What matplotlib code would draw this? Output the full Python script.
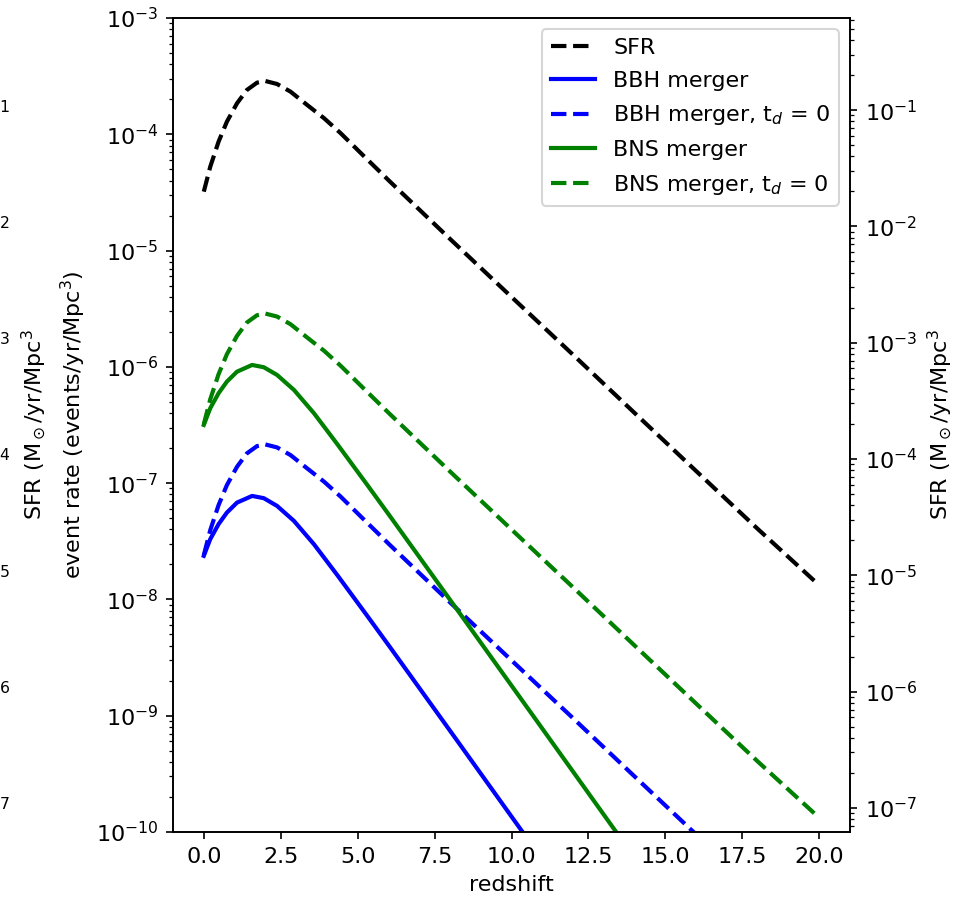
import numpy as np
import matplotlib
matplotlib.use("Agg")
import matplotlib.pyplot as plt

plt.rcParams['font.size'] = 10.7
plt.rcParams['lines.linewidth'] = 2.0

# SFR and the t_d = 0 rates
z_sfr = [0.0, 0.21, 0.48, 0.75, 1.08, 1.40, 1.73, 2.0, 2.38, 2.82, 3.36, 3.91,
         4.45, 5.21, 6.04, 8.0, 10.0, 12.0, 14.0, 16.0, 18.0, 19.95]
sfr = [3.21e-5, 5.26e-5, 8.64e-5, 1.283e-4, 1.847e-4, 2.404e-4, 2.78e-4,
       2.872e-4, 2.707e-4, 2.324e-4, 1.786e-4, 1.373e-4, 1.020e-4, 6.46e-5,
       3.94e-5, 1.26e-5, 3.99e-6, 1.27e-6, 4.01e-7, 1.27e-7, 4.04e-8, 1.36e-8]
bns_td0 = [3.21e-7, 5.26e-7, 8.64e-7, 1.283e-6, 1.847e-6, 2.404e-6, 2.78e-6,
           2.872e-6, 2.707e-6, 2.324e-6, 1.786e-6, 1.373e-6, 1.020e-6, 6.46e-7,
           3.94e-7, 1.26e-7, 3.99e-8, 1.27e-8, 4.01e-9, 1.27e-9, 4.04e-10,
           1.36e-10]
bbh_td0 = [2.40e-8, 3.94e-8, 6.47e-8, 9.61e-8, 1.383e-7, 1.801e-7, 2.082e-7,
           2.151e-7, 2.028e-7, 1.741e-7, 1.338e-7, 1.028e-7, 7.64e-8, 4.84e-8,
           2.95e-8, 9.44e-9, 2.99e-9, 9.51e-10, 3.00e-10, 9.51e-11]

# merger rates with delay times
z_merge = [0.0, 0.21, 0.48, 0.75, 1.08, 1.57, 1.95, 2.38, 2.93, 3.58, 4.34,
           5.32, 6.04, 8.21, 10.41, 12.0, 13.4]
bns = [3.165e-7, 4.41e-7, 5.93e-7, 7.46e-7, 9.09e-7, 1.038e-6, 9.92e-7,
       8.52e-7, 6.33e-7, 3.99e-7, 2.16e-7, 9.59e-8, 5.24e-8, 8.32e-9,
       1.28e-9, 3.30e-10, 1.0e-10]
bbh = [2.37e-8, 3.30e-8, 4.44e-8, 5.58e-8, 6.80e-8, 7.76e-8, 7.42e-8, 6.37e-8,
       4.73e-8, 2.98e-8, 1.616e-8, 7.17e-9, 3.92e-9, 6.22e-10, 9.57e-11]

fig = plt.figure(figsize=(6.38, 6.0), dpi=150)

# neighbouring panel, mostly cut off at the left edge of the figure
ax_l = fig.add_axes([-0.8, 0.0756, 0.741, 0.9044])
ax_l.set_yscale('log')
ax_l.set_xticks([])
ax_l.set_yticks([])
ax_l2 = ax_l.twinx()
ax_l2.set_yscale('log')
ax_l2.set_ylim(6.2e-8, 0.62)
ax_l2.set_ylabel(r'SFR (M$_\odot$/yr/Mpc$^3$')

ax = fig.add_axes([0.1808, 0.0756, 0.7074, 0.9044])
ax.plot(z_sfr, sfr, 'k--', label='SFR')
ax.plot(z_merge[:len(bbh)], bbh, 'b-', label='BBH merger')
ax.plot(z_sfr[:len(bbh_td0)], bbh_td0, 'b--', label='BBH merger, t$_d$ = 0')
ax.plot(z_merge, bns, 'g-', label='BNS merger')
ax.plot(z_sfr, bns_td0, 'g--', label='BNS merger, t$_d$ = 0')
ax.set_yscale('log')
ax.set_ylim(1e-10, 1e-3)
ax.set_xlim(-1, 21)
ax.set_xlabel('redshift')
ax.set_ylabel('event rate (events/yr/Mpc$^3$)')
ax.legend(loc='upper right', labelspacing=0.57)

ax2 = ax.twinx()
ax2.set_yscale('log')
ax2.set_ylim(6.2e-8, 0.62)
ax2.set_ylabel(r'SFR (M$_\odot$/yr/Mpc$^3$')

fig.savefig('out.png', dpi=150)
